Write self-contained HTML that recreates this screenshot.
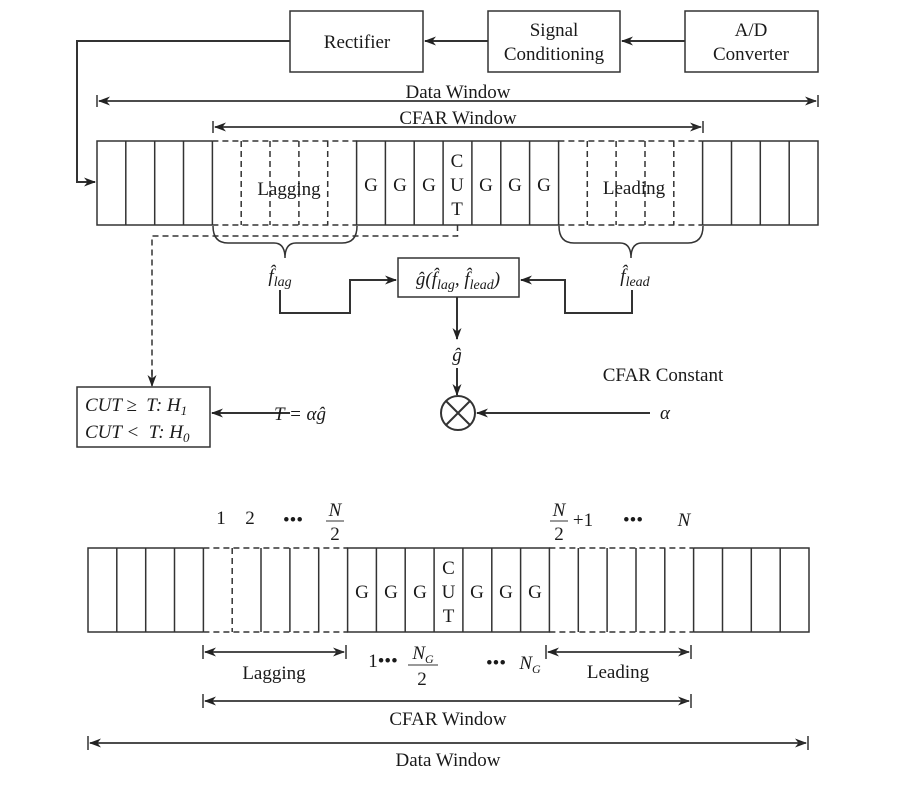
<!DOCTYPE html>
<html><head><meta charset="utf-8"><style>
body{margin:0;background:#fff}
svg text{font-family:"Liberation Serif",serif;fill:#1a1a1a}
.it{font-style:italic}
</style></head><body>
<svg width="913" height="795" viewBox="0 0 913 795" xmlns="http://www.w3.org/2000/svg">
<defs>
<marker id="a" markerWidth="12" markerHeight="12" refX="11" refY="6" orient="auto" markerUnits="userSpaceOnUse"><path d="M0,1.5 L12,6 L0,10.5 L3.5,6 Z" fill="#222"/></marker>
</defs>
<g stroke="#333" stroke-width="1.5" fill="none">
<rect x="290" y="11" width="133" height="61"/>
<rect x="488" y="11" width="132" height="61"/>
<rect x="685" y="11" width="133" height="61"/>
<line x1="685" y1="41" x2="622" y2="41" marker-end="url(#a)" stroke-width="2"/>
<line x1="488" y1="41" x2="425" y2="41" marker-end="url(#a)" stroke-width="2"/>
<polyline points="290,41 77,41 77,182 95,182" marker-end="url(#a)" stroke-width="2"/>
<line x1="97" y1="95" x2="97" y2="107"/><line x1="818" y1="95" x2="818" y2="107"/>
<line x1="99" y1="101" x2="816" y2="101" marker-end="url(#a)"/>
<line x1="816" y1="101" x2="99" y2="101" marker-end="url(#a)"/>
<line x1="213" y1="121" x2="213" y2="133"/><line x1="703" y1="121" x2="703" y2="133"/>
<line x1="215" y1="127" x2="701" y2="127" marker-end="url(#a)"/>
<line x1="701" y1="127" x2="215" y2="127" marker-end="url(#a)"/>
<polyline points="212.4,141 97,141 97,225 212.4,225"/>
<polyline points="702.6,141 818,141 818,225 702.6,225"/>
<rect x="356.6" y="141" width="202" height="84"/>
<path d="M125.8,141V225M154.7,141V225M183.5,141V225M212.4,141V225M385.4,141V225M414.2,141V225M443.1,141V225M471.9,141V225M500.8,141V225M529.6,141V225M702.6,141V225M731.5,141V225M760.3,141V225M789.2,141V225"/>
<g stroke-dasharray="6,4">
<path d="M212.4,141H356.6M212.4,225H356.6M558.4,141H702.6M558.4,225H702.6"/>
<path d="M241.2,141V225M270,141V225M298.9,141V225M327.7,141V225M587.3,141V225M616.1,141V225M645,141V225M673.8,141V225"/>
<polyline points="457.5,225 457.5,236 152,236 152,382"/>
</g>
<line x1="152" y1="370" x2="152" y2="386" marker-end="url(#a)"/>
<path d="M213,226 Q213,243 228,243 H274 Q285,243 285,258 Q285,243 296,243 H342 Q357,243 357,226"/>
<path d="M559,226 Q559,243 574,243 H620 Q631,243 631,258 Q631,243 642,243 H688 Q703,243 703,226"/>
<rect x="398" y="258" width="121" height="39"/>
<polyline points="280,290 280,313 350,313 350,280 396,280" marker-end="url(#a)" stroke-width="2"/>
<polyline points="632,290 632,313 565,313 565,280 521,280" marker-end="url(#a)" stroke-width="2"/>
<line x1="457" y1="297" x2="457" y2="339" marker-end="url(#a)" stroke-width="2"/>
<line x1="457" y1="368" x2="457" y2="395" marker-end="url(#a)" stroke-width="2"/>
<circle cx="458" cy="413" r="17" stroke-width="2"/>
<path d="M446,401L470,425M470,401L446,425" stroke-width="2"/>
<line x1="650" y1="413" x2="477" y2="413" marker-end="url(#a)" stroke-width="2"/>
<line x1="290" y1="413" x2="212" y2="413" marker-end="url(#a)" stroke-width="2"/>
<rect x="77" y="387" width="133" height="60"/>
<polyline points="203.4,548 88,548 88,632 203.4,632"/>
<polyline points="693.6,548 809,548 809,632 693.6,632"/>
<rect x="347.6" y="548" width="201.8" height="84"/>
<path d="M116.8,548V632M145.7,548V632M174.5,548V632M203.4,548V632M261,548V632M289.9,548V632M318.7,548V632M376.4,548V632M405.2,548V632M434.1,548V632M462.9,548V632M491.8,548V632M520.6,548V632M578.3,548V632M607.1,548V632M636,548V632M664.8,548V632M693.6,548V632M722.5,548V632M751.3,548V632M780.2,548V632"/>
<g stroke-dasharray="6,4">
<path d="M203.4,548H347.6M203.4,632H347.6M549.4,548H693.6M549.4,632H693.6M232.2,548V632"/>
</g>
<line x1="203" y1="645" x2="203" y2="659"/><line x1="346" y1="645" x2="346" y2="659"/>
<line x1="205" y1="652" x2="344" y2="652" marker-end="url(#a)"/>
<line x1="344" y1="652" x2="205" y2="652" marker-end="url(#a)"/>
<line x1="546" y1="645" x2="546" y2="659"/><line x1="691" y1="645" x2="691" y2="659"/>
<line x1="548" y1="652" x2="689" y2="652" marker-end="url(#a)"/>
<line x1="689" y1="652" x2="548" y2="652" marker-end="url(#a)"/>
<line x1="203" y1="694" x2="203" y2="708"/><line x1="691" y1="694" x2="691" y2="708"/>
<line x1="205" y1="701" x2="689" y2="701" marker-end="url(#a)"/>
<line x1="689" y1="701" x2="205" y2="701" marker-end="url(#a)"/>
<line x1="88" y1="736" x2="88" y2="750"/><line x1="808" y1="736" x2="808" y2="750"/>
<line x1="90" y1="743" x2="806" y2="743" marker-end="url(#a)"/>
<line x1="806" y1="743" x2="90" y2="743" marker-end="url(#a)"/>
<line x1="326" y1="521" x2="344" y2="521" stroke-width="1"/>
<line x1="550" y1="521" x2="568" y2="521" stroke-width="1"/>
<line x1="408" y1="665" x2="438" y2="665" stroke-width="1"/>
</g>
<g font-size="19" text-anchor="middle">
<text x="357" y="48">Rectifier</text>
<text x="554" y="36">Signal</text>
<text x="554" y="60">Conditioning</text>
<text x="751" y="36">A/D</text>
<text x="751" y="60">Converter</text>
<text x="458" y="98">Data Window</text>
<text x="458" y="124">CFAR Window</text>
<text x="289" y="195">Lagging</text>
<text x="634" y="194">Leading</text>
<text x="371" y="191">G</text><text x="400" y="191">G</text><text x="429" y="191">G</text>
<text x="486" y="191">G</text><text x="515" y="191">G</text><text x="544" y="191">G</text>
<text x="457" y="167">C</text><text x="457" y="191">U</text><text x="457" y="215">T</text>
<text x="280" y="282" class="it">f̂<tspan font-size="14" dy="4">lag</tspan></text>
<text x="635" y="282" class="it">f̂<tspan font-size="14" dy="4">lead</tspan></text>
<text x="458" y="285" class="it">ĝ(f̂<tspan font-size="14" dy="4">lag</tspan><tspan dy="-4">, f̂</tspan><tspan font-size="14" dy="4">lead</tspan><tspan dy="-4">)</tspan></text>
<text x="457" y="361" class="it">ĝ</text>
<text x="663" y="381">CFAR Constant</text>
<text x="665" y="419" class="it">α</text>
<text x="300" y="420" class="it">T = αĝ</text>
<text x="85" y="411" text-anchor="start" class="it">CUT ≥ &#160;T: H<tspan font-size="13" dy="4">1</tspan></text>
<text x="85" y="438" text-anchor="start" class="it">CUT &lt; &#160;T: H<tspan font-size="13" dy="4">0</tspan></text>
<text x="221" y="524">1</text><text x="250" y="524">2</text>
<text x="293" y="526">•••</text>
<text x="335" y="516" class="it">N</text><text x="335" y="540">2</text>
<text x="559" y="516" class="it">N</text><text x="559" y="540">2</text>
<text x="583" y="526">+1</text>
<text x="633" y="526">•••</text>
<text x="684" y="526" class="it">N</text>
<text x="362" y="598">G</text><text x="391" y="598">G</text><text x="420" y="598">G</text>
<text x="477" y="598">G</text><text x="506" y="598">G</text><text x="535" y="598">G</text>
<text x="448.5" y="574">C</text><text x="448.5" y="598">U</text><text x="448.5" y="622">T</text>
<text x="274" y="679">Lagging</text>
<text x="618" y="678">Leading</text>
<text x="383" y="667">1•••</text>
<text x="423" y="659" class="it">N<tspan font-size="12" dy="4">G</tspan></text>
<text x="422" y="685">2</text>
<text x="496" y="669">•••</text>
<text x="530" y="669" class="it">N<tspan font-size="12" dy="4">G</tspan></text>
<text x="448" y="725">CFAR Window</text>
<text x="448" y="766">Data Window</text>
</g>
</svg>
</body></html>
